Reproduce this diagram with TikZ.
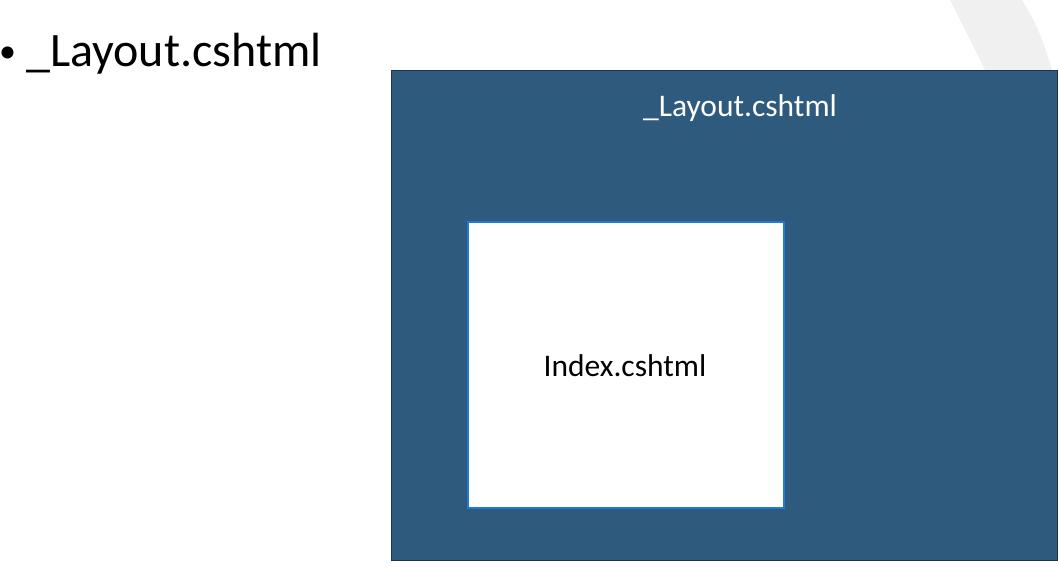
\documentclass[tikz,border=0pt]{standalone}
\usepackage{fontspec}
\setmainfont{Carlito}
\usetikzlibrary{positioning}
\definecolor{layoutblue}{HTML}{2E5A7D}
\definecolor{layoutedge}{HTML}{1B3550}
\definecolor{viewedge}{HTML}{1E7AD6}
\definecolor{decogray}{HTML}{F0F0F0}

\begin{document}
\begin{tikzpicture}[x=1pt, y=-1pt,
                      layoutbox/.style = {draw=layoutedge, line width=1pt,
                        fill=layoutblue},
                      viewbox/.style = {draw=viewedge, line width=1.6pt,
                        fill=white},
                      bigtext/.style = {font=\fontsize{48}{52}\selectfont,
                        inner sep=0pt, anchor=base west},
                      boxtext/.style = {font=\fontsize{31.5}{34}\selectfont,
                        inner sep=0pt}]
                      \useasboundingbox (0,0) rectangle (1059,566);
                      % slide decoration
                      \fill[decogray] (950,0) .. controls (965,30) and (978,55) .. (985,70)
                        -- (1052,70) .. controls (1045,45) and (1035,20) .. (1022,0) -- cycle;
                      % bullet line
                      \node[font=\fontsize{34}{36}\selectfont, inner sep=0pt,
                        anchor=base west] (bullet) at (-1,62) {•};
                      \node[bigtext] (title) at (26,66) {\_Layout.cshtml};
                      % layout page
                      \node[layoutbox, minimum width=666pt, minimum height=490pt,
                        anchor=north west, inner sep=0pt] (layout) at (391,70) {};
                      \node[boxtext, text=white] (layoutlabel) at (740,108) {\_Layout.cshtml};
                      % view inside it
                      \node[viewbox, minimum width=316pt, minimum height=286pt,
                        anchor=north west, inner sep=0pt] (index) at (467,221) {};
                      \node[boxtext, text=black] (indexlabel) at (625,366) {Index.cshtml};
                    \end{tikzpicture}
\end{document}
